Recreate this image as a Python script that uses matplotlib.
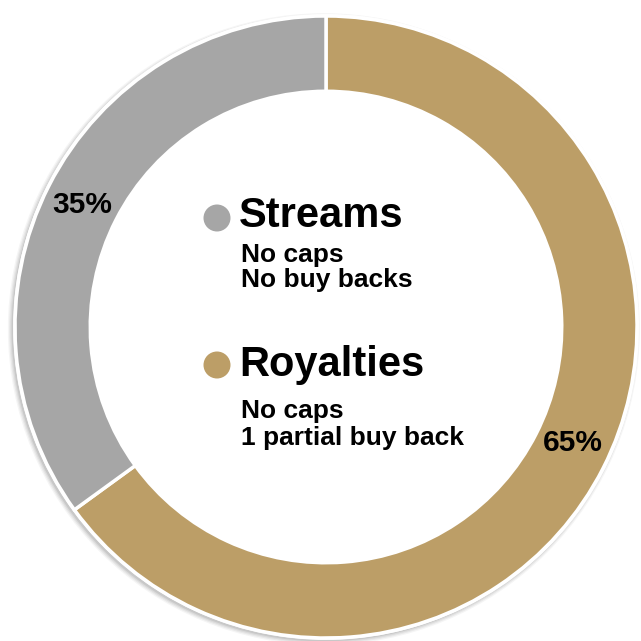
import matplotlib
matplotlib.use("Agg")
import matplotlib.pyplot as plt
from matplotlib.patches import Circle

plt.rcParams['font.family'] = ['Liberation Sans', 'DejaVu Sans']

categories = ["Royalties", "Streams"]
values = [65, 35]
colors = ["#BC9E67", "#A6A6A6"]
details = {"Streams": ["No caps", "No buy backs"],
           "Royalties": ["No caps", "1 partial buy back"]}

W = H = 641
fig = plt.figure(figsize=(W / 100, H / 100), dpi=100)
ax = fig.add_axes([0, 0, 1, 1])
cx, cy, R = 326, 327, 311
ax.axis('off')

# soft shadow
for i, a in enumerate([0.04, 0.05, 0.06, 0.08]):
    ax.add_patch(Circle((-0.007, -0.007), 1 + (4 - i) * 0.004, color='black', alpha=a, lw=0, zorder=0))
ax.add_patch(Circle((0, 0), 1.006, color='white', lw=0, zorder=0.5))

wedges, texts, autotexts = ax.pie(
    values, colors=colors, startangle=90, counterclock=False, radius=1,
    wedgeprops=dict(width=0.242, edgecolor='white', linewidth=2.5),
    autopct=lambda p: f"{p:.0f}%", pctdistance=0.878,
    textprops=dict(fontsize=21.5, fontweight='bold', color='black'))
for w in wedges:
    w.set_zorder(1)
# small label nudges (pixels -> data units)
nudges = {"65%": (4, 8), "35%": (0, -2)}
for t in autotexts:
    t.set_zorder(3)
    dx, dy = nudges.get(t.get_text(), (0, 0))
    x, y = t.get_position()
    t.set_position((x + dx / R, y + dy / R))
ax.set_xlim(-cx / R, (W - cx) / R)
ax.set_ylim(-(H - cy) / R, cy / R)
ax.set_aspect('auto')

def fx(px):
    return px / W

def fy(py):
    return 1 - py / H

legend_rows = [("Streams", colors[1], 227, 218, [262, 287]),
               ("Royalties", colors[0], 376, 365, [418, 445])]
for name, col, base, mcy, subs in legend_rows:
    fig.text(fx(239), fy(base), name, fontsize=30, fontweight='bold', va='baseline', ha='left')
    fig.patches.append(Circle((fx(217), fy(mcy)), 13.5 / W, transform=fig.transFigure,
                              color=col, lw=0, figure=fig))
    for line, b in zip(details[name], subs):
        fig.text(fx(241), fy(b), line, fontsize=19, fontweight='bold', va='baseline', ha='left')

fig.savefig("out.png", dpi=100, facecolor='white')
